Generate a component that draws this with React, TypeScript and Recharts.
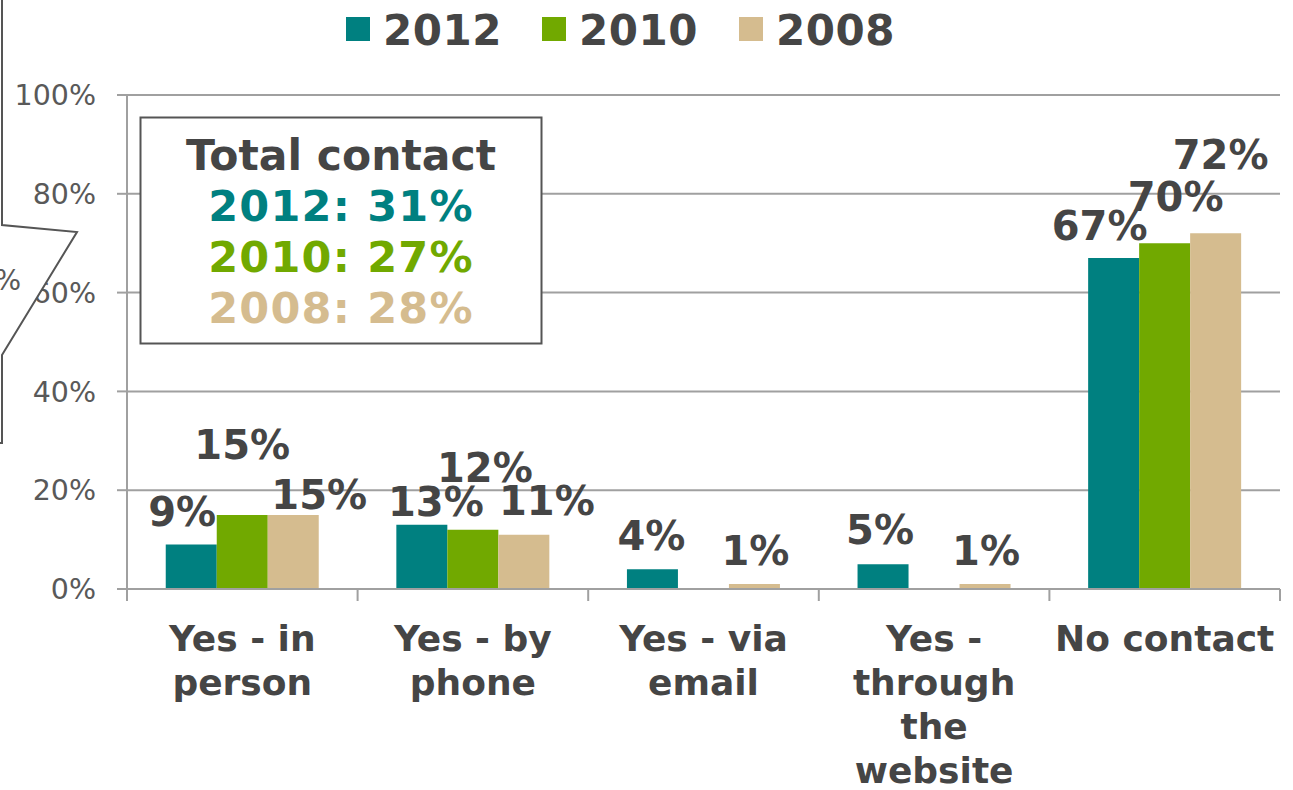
import { BarChart, Bar, XAxis, YAxis, CartesianGrid, LabelList } from 'recharts';

const CATEGORIES = [
  'Yes - in\nperson',
  'Yes - by\nphone',
  'Yes - via\nemail',
  'Yes -\nthrough\nthe\nwebsite',
  'No contact',
];
const Y2012 = [9, 13, 4, 5, 67];
const Y2010 = [15, 12, null, null, 70];
const Y2008 = [15, 11, 1, 1, 72];
const Y_TICKS = [0, 20, 40, 60, 80, 100];
const TOTALS = [
  { year: '2012', value: 31 },
  { year: '2010', value: 27 },
  { year: '2008', value: 28 },
];

// label nudges (dx, dy from bar top-centre) to follow the original's scattered labels
const NUDGE_2012 = [[-9, -33], [14, -23], [-1, -33], [-3, -34], [-14, -32]];
const NUDGE_2010 = [[0, -70], [12, -62], null, null, [11, -46]];
const NUDGE_2008 = [[26, -20], [23, -34], [1, -33], [1, -33], [5, -78]];

const TEAL = '#008080';
const GREEN = '#71A900';
const TAN = '#D5BC8F';
const DARK = '#454545';
const GRID = '#A0A0A0';
const FONT = '"DejaVu Sans", Verdana, sans-serif';

const W = 1293;
const H = 790;
const PLOT_LEFT = 127;
const PLOT_RIGHT = 1280;
const PLOT_TOP = 95;
const PLOT_BOTTOM = 589;
const X_AXIS_H = 190;

const data = CATEGORIES.map((c, i) => ({
  cat: c,
  y2012: Y2012[i],
  y2010: Y2010[i],
  y2008: Y2008[i],
}));

function makeLabel(values: (number | null)[], nudge: (number[] | null)[]) {
  return (props: any) => {
    const { x, y, width, value } = props;
    const i = CATEGORIES.indexOf(value);
    if (i < 0) return null;
    const v = values[i];
    const n = nudge[i];
    if (v == null || !n || y == null) return null;
    return (
      <text
        x={x + width / 2 + n[0]}
        y={y + n[1]}
        textAnchor="middle"
        dominantBaseline="central"
        fontFamily={FONT}
        fontWeight="bold"
        fontSize={40}
        fill={DARK}
      >
        {v}%
      </text>
    );
  };
}

function CategoryTick(props: any) {
  const { payload, index } = props;
  const cx = payload.coordinate;
  const half = (PLOT_RIGHT - PLOT_LEFT) / CATEGORIES.length / 2;
  const lines = String(payload.value).split('\n');
  return (
    <g>
      <line x1={cx - half} x2={cx - half} y1={PLOT_BOTTOM} y2={PLOT_BOTTOM + 12} stroke={GRID} strokeWidth={2} />
      {index === CATEGORIES.length - 1 && (
        <line x1={cx + half} x2={cx + half} y1={PLOT_BOTTOM} y2={PLOT_BOTTOM + 12} stroke={GRID} strokeWidth={2} />
      )}
      <text textAnchor="middle" fontFamily={FONT} fontWeight="bold" fontSize={36} fill={DARK}>
        {lines.map((l, i) => (
          <tspan key={i} x={cx} y={651 + i * 44}>
            {l}
          </tspan>
        ))}
      </text>
    </g>
  );
}

const LEGEND = [
  { name: '2012', color: TEAL },
  { name: '2010', color: GREEN },
  { name: '2008', color: TAN },
];
const TOTAL_COLORS = [TEAL, GREEN, TAN];

export default function App() {
  return (
    <div style={{ position: 'absolute', left: 0, top: 0, width: W, height: H, background: '#fff', overflow: 'hidden' }}>
      <BarChart
        width={W}
        height={H}
        data={data}
        margin={{ top: PLOT_TOP, right: W - PLOT_RIGHT, bottom: H - PLOT_BOTTOM - X_AXIS_H, left: 0 }}
        barCategoryGap="16.8%"
        barGap={0}
      >
        <CartesianGrid vertical={false} stroke={GRID} strokeWidth={2} />
        <YAxis
          width={PLOT_LEFT}
          domain={[0, 100]}
          ticks={Y_TICKS}
          tickFormatter={(v: number) => `${v}%`}
          tickSize={10}
          tickMargin={21}
          axisLine={{ stroke: GRID, strokeWidth: 2 }}
          tickLine={{ stroke: GRID, strokeWidth: 2 }}
          tick={{ fontFamily: FONT, fontSize: 28.5, fill: '#595959' }}
        />
        <XAxis
          dataKey="cat"
          height={X_AXIS_H}
          interval={0}
          axisLine={{ stroke: GRID, strokeWidth: 2 }}
          tickLine={false}
          tick={<CategoryTick />}
        />
        <Bar dataKey="y2012" fill={TEAL} isAnimationActive={false}>
          <LabelList dataKey="cat" content={makeLabel(Y2012, NUDGE_2012)} />
        </Bar>
        <Bar dataKey="y2010" fill={GREEN} isAnimationActive={false}>
          <LabelList dataKey="cat" content={makeLabel(Y2010, NUDGE_2010)} />
        </Bar>
        <Bar dataKey="y2008" fill={TAN} isAnimationActive={false}>
          <LabelList dataKey="cat" content={makeLabel(Y2008, NUDGE_2008)} />
        </Bar>
      </BarChart>

      <svg width={W} height={H} style={{ position: 'absolute', left: 0, top: 0, pointerEvents: 'none' }}>
        {/* cut-off callout from the left edge */}
        <polygon
          points="-10,-10 2,-10 2,225 77,232 2,355 2,443 -10,443"
          fill="#fff"
          stroke="#555"
          strokeWidth={2}
        />
        <text x={21} y={290} textAnchor="end" fontFamily={FONT} fontSize={28} fill="#595959">
          0%
        </text>

        {/* legend */}
        {LEGEND.map((l, i) => {
          const x0 = [346, 542, 739][i];
          return (
            <g key={l.name}>
              <rect x={x0} y={17} width={24} height={24} fill={l.color} />
              <text x={x0 + 37} y={45} fontFamily={FONT} fontWeight="bold" fontSize={42} letterSpacing={0.5} fill={DARK}>
                {l.name}
              </text>
            </g>
          );
        })}

        {/* total contact box */}
        <rect x={140.5} y={117.5} width={401} height={226} fill="#fff" stroke="#555" strokeWidth={2} />
        <text x={341} y={170} textAnchor="middle" fontFamily={FONT} fontWeight="bold" fontSize={42.5} fill={DARK}>
          Total contact
        </text>
        {TOTALS.map((t, i) => (
          <text
            key={t.year}
            x={341}
            y={221 + i * 51}
            textAnchor="middle"
            fontFamily={FONT}
            fontWeight="bold"
            fontSize={43}
            letterSpacing={1.2}
            fill={TOTAL_COLORS[i]}
          >
            {t.year}: {t.value}%
          </text>
        ))}
      </svg>
    </div>
  );
}
